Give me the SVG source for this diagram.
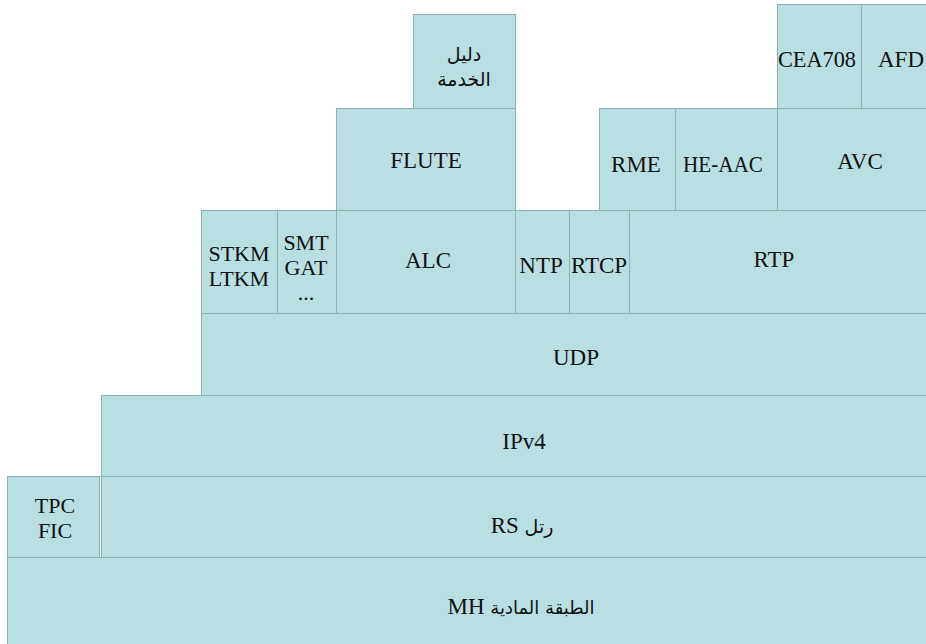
<svg xmlns="http://www.w3.org/2000/svg" width="926" height="644" viewBox="0 0 926 644">
  <style>
    .cell { fill: #b9dfe3; stroke: #8fb0b3; stroke-width: 1; }
    .lbl { font-family: "Liberation Serif", "Times New Roman", Times, "DejaVu Serif", "DejaVu Sans", serif; font-size: 23px; fill: #111; text-anchor: middle; }
    .ml { font-size: 22px; }
    .ar { font-family: "DejaVu Sans", "Liberation Serif", sans-serif; font-size: 19px; }
    .ar2 { font-size: 18px; }
  </style>
  <rect x="0" y="0" width="926" height="644" fill="#ffffff"/>

  <!-- top row -->
  <g id="service-guide">
    <rect class="cell" x="413.5" y="14.5" width="102" height="94"/>
    <text class="lbl ar" x="464" y="61">دليل</text>
    <text class="lbl ar" x="464" y="86">الخدمة</text>
  </g>
  <g id="cea708">
    <rect class="cell" x="777.5" y="4.5" width="84" height="104"/>
    <text class="lbl" x="817" y="67" textLength="78" lengthAdjust="spacingAndGlyphs">CEA708</text>
  </g>
  <g id="afd">
    <rect class="cell" x="861.5" y="4.5" width="66" height="104"/>
    <text class="lbl" x="901" y="67">AFD</text>
  </g>

  <!-- codecs / FLUTE row -->
  <g id="flute">
    <rect class="cell" x="336.5" y="108.5" width="179" height="102"/>
    <text class="lbl" x="426" y="168">FLUTE</text>
  </g>
  <g id="rme">
    <rect class="cell" x="599.5" y="108.5" width="76" height="102"/>
    <text class="lbl" x="636" y="172">RME</text>
  </g>
  <g id="heaac">
    <rect class="cell" x="675.5" y="108.5" width="102" height="102"/>
    <text class="lbl" x="723" y="172" textLength="80" lengthAdjust="spacingAndGlyphs">HE-AAC</text>
  </g>
  <g id="avc">
    <rect class="cell" x="777.5" y="108.5" width="150" height="102"/>
    <text class="lbl" x="860" y="169">AVC</text>
  </g>

  <!-- transport row -->
  <g id="stkm-ltkm">
    <rect class="cell" x="201.5" y="210.5" width="76" height="103"/>
    <text class="lbl ml" x="239" y="261">STKM</text>
    <text class="lbl ml" x="239" y="286">LTKM</text>
  </g>
  <g id="smt-gat">
    <rect class="cell" x="277.5" y="210.5" width="59" height="103"/>
    <text class="lbl ml" x="306" y="250">SMT</text>
    <text class="lbl ml" x="306" y="275">GAT</text>
    <text class="lbl ml" x="306" y="300">...</text>
  </g>
  <g id="alc">
    <rect class="cell" x="336.5" y="210.5" width="179" height="103"/>
    <text class="lbl" x="428" y="268">ALC</text>
  </g>
  <g id="ntp">
    <rect class="cell" x="515.5" y="210.5" width="54" height="103"/>
    <text class="lbl" x="541" y="273">NTP</text>
  </g>
  <g id="rtcp">
    <rect class="cell" x="569.5" y="210.5" width="60" height="103"/>
    <text class="lbl" x="599" y="273">RTCP</text>
  </g>
  <g id="rtp">
    <rect class="cell" x="629.5" y="210.5" width="298" height="103"/>
    <text class="lbl" x="774" y="267">RTP</text>
  </g>

  <!-- lower stack -->
  <g id="udp">
    <rect class="cell" x="201.5" y="313.5" width="726" height="82"/>
    <text class="lbl" x="576" y="365">UDP</text>
  </g>
  <g id="ipv4">
    <rect class="cell" x="101.5" y="395.5" width="826" height="81"/>
    <text class="lbl" x="524" y="449">IPv4</text>
  </g>
  <g id="tpc-fic">
    <rect class="cell" x="7.5" y="476.5" width="92" height="81"/>
    <text class="lbl ml" x="55" y="513">TPC</text>
    <text class="lbl ml" x="55" y="538">FIC</text>
  </g>
  <g id="rs-frame">
    <rect class="cell" x="101.5" y="476.5" width="826" height="81"/>
    <text class="lbl" x="522" y="533">RS <tspan class="ar">رتل</tspan></text>
  </g>
  <g id="mh-physical">
    <rect class="cell" x="7.5" y="557.5" width="920" height="88"/>
    <text class="lbl" x="521" y="614">MH <tspan class="ar ar2">الطبقة المادية</tspan></text>
  </g>
</svg>
